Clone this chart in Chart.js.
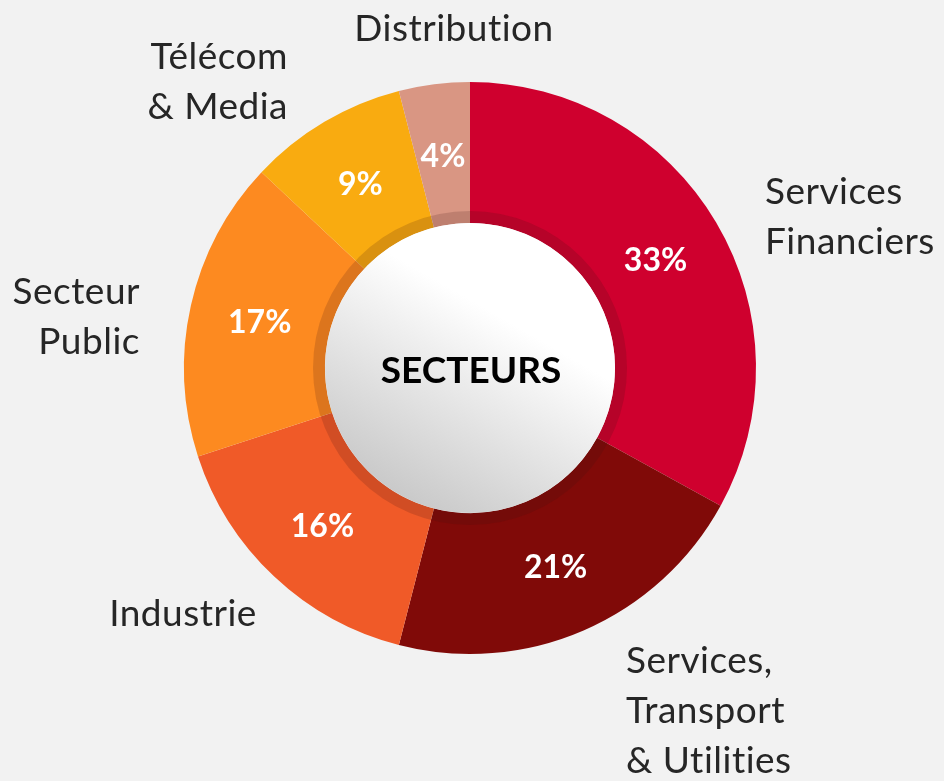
<!DOCTYPE html>
<html>
<head>
<meta charset="utf-8">
<script src="https://cdn.jsdelivr.net/npm/chart.js@4.4.1/dist/chart.umd.min.js"></script>
<style>
  html, body { margin: 0; padding: 0; background: #f2f2f2; }
  #wrap { position: relative; width: 944px; height: 781px; }
</style>
</head>
<body>
<div id="wrap"><canvas id="chart" width="944" height="781"></canvas></div>
<script>
// ---------------------------------------------
// Data
// ---------------------------------------------
const sectors = [
  ['Services', 'Financiers'],
  ['Services,', 'Transport', '& Utilities'],
  ['Industrie'],
  ['Secteur', 'Public'],
  ['Télécom', '& Media'],
  ['Distribution'],
]
const shares = [33, 21, 16, 17, 9, 4]
const sliceColors = ['#cf002e', '#800a08', '#f05a28', '#fd8a20', '#f9ab10', '#d99683']
const centerTitle = 'SECTEURS'

// label placement (offset from doughnut centre, text alignment)
const labelPlace = [
  { dx: 295,  dy: -176, align: 'left' },
  { dx: 156,  dy: 293,  align: 'left' },
  { dx: -287, dy: 246,  align: 'center' },
  { dx: -330, dy: -76,  align: 'right' },
  { dx: -182, dy: -311, align: 'right' },
  { dx: -16,  dy: -339, align: 'center' },
]

const FONT = "Lato, 'Open Sans', sans-serif"
const TEXT_COLOR = '#262626'

// ---------------------------------------------
// Plugin: ring, centre disc, labels
// ---------------------------------------------
const decoPlugin = {
  id: 'deco',
  afterDatasetsDraw(chart) {
    const ctx = chart.ctx
    const arcs = chart.getDatasetMeta(0).data
    const cx = arcs[0].x, cy = arcs[0].y
    const inner = arcs[0].innerRadius

    // percentages
    ctx.save()
    ctx.font = `bold 32px ${FONT}`
    ctx.fillStyle = '#ffffff'
    ctx.textAlign = 'center'
    ctx.textBaseline = 'middle'
    arcs.forEach((arc, i) => {
      const p = arc.tooltipPosition()
      ctx.fillText(shares[i] + '%', p.x, p.y + 2)
    })
    ctx.restore()

    // darker ring around the centre disc
    ctx.save()
    ctx.beginPath()
    ctx.arc(cx, cy, inner + 12, 0, Math.PI * 2)
    ctx.arc(cx, cy, inner, 0, Math.PI * 2, true)
    ctx.fillStyle = 'rgba(60,20,20,0.17)'
    ctx.fill()

    // white disc with soft gradient
    const g = ctx.createLinearGradient(cx - inner * 0.45, cy + inner, cx + inner * 0.3, cy - inner * 0.3)
    g.addColorStop(0, '#c6c6c6')
    g.addColorStop(1, '#ffffff')
    ctx.beginPath()
    ctx.arc(cx, cy, inner, 0, Math.PI * 2)
    ctx.fillStyle = g
    ctx.fill()

    ctx.font = `bold 37px ${FONT}`
    ctx.fillStyle = '#000000'
    ctx.textAlign = 'center'
    ctx.textBaseline = 'middle'
    ctx.fillText(centerTitle, cx + 1, cy + 3)
    ctx.restore()

    // outside labels (letter spacing also turns off the "ti" ligature)
    ctx.save()
    ctx.font = `37px ${FONT}`
    ctx.letterSpacing = '0.5px'
    ctx.fillStyle = TEXT_COLOR
    ctx.textBaseline = 'middle'
    sectors.forEach((lines, i) => {
      const pl = labelPlace[i]
      ctx.textAlign = pl.align
      lines.forEach((line, k) => {
        ctx.fillText(line, cx + pl.dx, cy + pl.dy + k * 50)
      })
    })
    ctx.restore()
  }
}

new Chart(document.getElementById('chart'), {
  type: 'doughnut',
  data: {
    labels: sectors.map(s => s.join(' ')),
    datasets: [{
      data: shares,
      backgroundColor: sliceColors,
      borderWidth: 0,
    }]
  },
  options: {
    responsive: false,
    animation: false,
    cutout: '50.7%',
    layout: { padding: { left: 184, right: 188, top: 82, bottom: 127 } },
    plugins: {
      legend: { display: false },
      tooltip: { enabled: false },
    }
  },
  plugins: [decoPlugin]
})
</script>
</body>
</html>
